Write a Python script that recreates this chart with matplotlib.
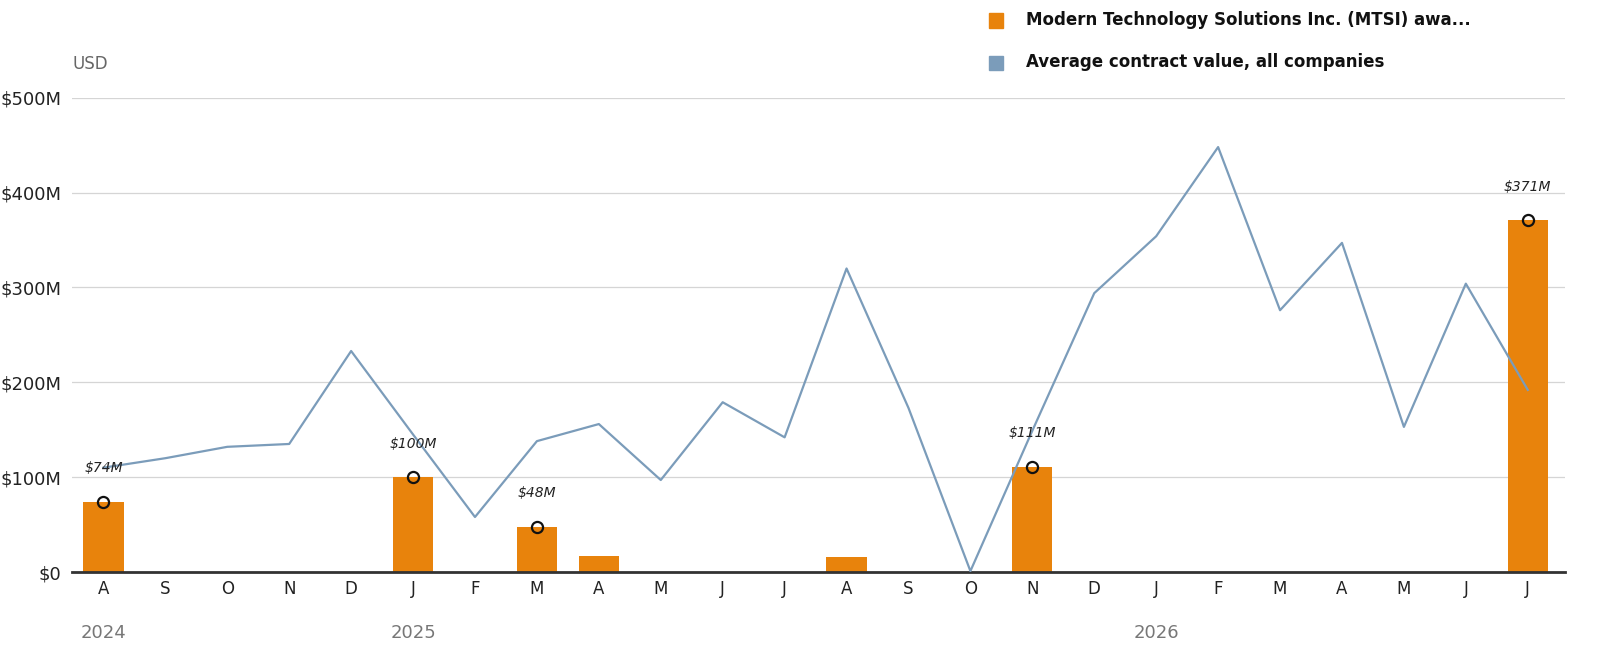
import matplotlib.pyplot as plt
import numpy as np

months = ["A", "S", "O", "N", "D", "J", "F", "M", "A", "M", "J", "J",
          "A", "S", "O", "N", "D", "J", "F", "M", "A", "M", "J", "J"]
mtsi = [74, 0, 0, 0, 0, 100, 0, 48, 17, 0, 0, 0,
        16, 0, 0, 111, 0, 0, 0, 0, 0, 0, 0, 371]
average = [110, 120, 132, 135, 233, 145, 58, 138, 156, 97, 179, 142,
           320, 173, 1, 149, 294, 354, 448, 276, 347, 153, 304, 192]
labeled = {0: "$74M", 5: "$100M", 7: "$48M", 15: "$111M", 23: "$371M"}
years = {0: "2024", 5: "2025", 17: "2026"}

ORANGE = "#e8830c"
BLUE = "#7b9cba"


def main():
    fig = plt.figure(figsize=(16.1, 6.56), dpi=100)
    ax = fig.add_axes([0.045, 0.128, 0.927, 0.723])
    x = np.arange(len(months))

    ax.bar(x, mtsi, width=0.65, color=ORANGE, zorder=2)
    ax.plot(x, average, color=BLUE, lw=1.6, zorder=3)
    for i, lab in labeled.items():
        ax.plot(i, mtsi[i], "o", mfc="none", mec="#111", mew=1.6, ms=8, zorder=4)
        ax.text(i, mtsi[i] + 28, lab, ha="center", va="bottom", fontsize=10,
                style="italic", color="#222", family="DejaVu Sans")

    ax.set_xlim(-0.5, len(months) - 0.4)
    ax.set_ylim(0, 500)
    ax.set_yticks(range(0, 501, 100))
    ax.set_yticklabels(["$0"] + [f"${v}M" for v in range(100, 501, 100)], fontsize=13)
    ax.set_xticks(x)
    ax.set_xticklabels(months, fontsize=12)
    ax.tick_params(axis="y", length=0, pad=8, colors="#222")
    ax.tick_params(axis="x", length=0, pad=6, colors="#222")
    ax.grid(axis="y", color="#d5d5d5", lw=0.9, zorder=0)
    for s in ["top", "right", "left"]:
        ax.spines[s].set_visible(False)
    ax.spines["bottom"].set_color("#333")
    ax.spines["bottom"].set_linewidth(2)

    for i, yr in years.items():
        ax.text(i, -0.11, yr, transform=ax.get_xaxis_transform(), ha="center",
                va="top", fontsize=13, color="#777")
    ax.text(0.0, 1.06, "USD", transform=ax.transAxes, fontsize=12, color="#666")

    fig.patches.append(plt.Rectangle((0.614, 0.958), 0.009, 0.022, color=ORANGE,
                                     transform=fig.transFigure, figure=fig))
    fig.patches.append(plt.Rectangle((0.614, 0.893), 0.009, 0.022, color=BLUE,
                                     transform=fig.transFigure, figure=fig))
    fig.text(0.637, 0.969, "Modern Technology Solutions Inc. (MTSI) awa...",
             fontsize=12, weight="bold", va="center", color="#111")
    fig.text(0.637, 0.905, "Average contract value, all companies",
             fontsize=12, weight="bold", va="center", color="#111")

    fig.savefig("out.png")


if __name__ == "__main__":
    main()
